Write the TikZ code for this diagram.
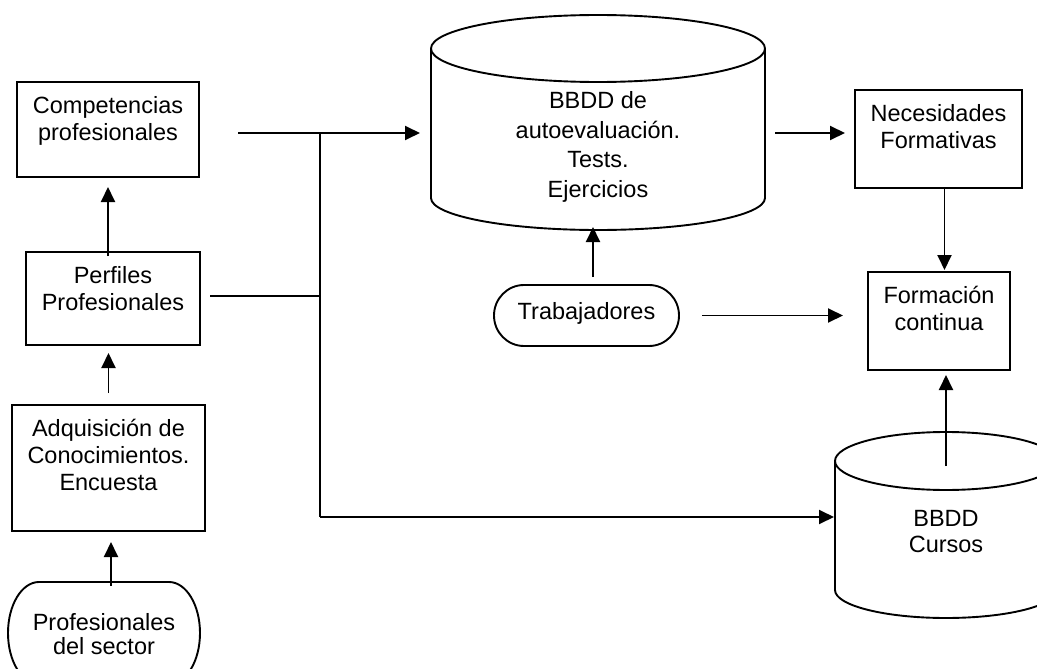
\documentclass[tikz,border=0pt]{standalone}
\usepackage{fontspec}
\setmainfont{Liberation Sans}
\usetikzlibrary{arrows.meta,positioning}
\newcommand{\cell}[4]{\parbox[c][#2][t]{#1}{\centering\rule{0pt}{#3}#4\par}}

\begin{document}
\begin{tikzpicture}[x=1pt, y=-1pt, line width=1.9pt, >={Triangle[length=15pt,width=14pt]},
  font=\fontsize{23.5}{27}\selectfont,
  b/.style={draw, inner sep=0pt, outer sep=0pt}, hid/.style={inner sep=0pt, outer sep=0pt}]
\useasboundingbox (0,0) rectangle (1037,669); \clip (0,0) rectangle (1037,669);
% boxes
\node[b] (comp) at (108,129.5) {\cell{182pt}{95pt}{31pt}{Competencias\\profesionales}};
\node[b] (perf) at (113,298.5) {\cell{174pt}{93pt}{31.5pt}{Perfiles\\Profesionales}};
\node[b] (adq) at (108.5,468) {\cell{193pt}{126pt}{31pt}{Adquisición de\\Conocimientos.\\Encuesta}};
\node[b] (nec) at (938.5,139) {\cell{167pt}{98pt}{31.5pt}{Necesidades\\Formativas}};
\node[b] (form) at (939,321) {\cell{142pt}{98pt}{31pt}{Formación\\continua}};
% data bases
\node[hid, font=\fontsize{23.5}{30}\selectfont] (bd) at (598,122.5) {\cell{334pt}{215pt}{93pt}{BBDD de\\autoevaluación.\\Tests.\\Ejercicios}};
\node[hid, font=\fontsize{23.5}{26}\selectfont] (cur) at (946,525) {\cell{222pt}{186pt}{94.5pt}{BBDD\\Cursos}};
\draw ([yshift=-33.5pt]bd.north) ellipse [x radius=167pt, y radius=33.5pt];
\draw ([yshift=-33.5pt]bd.north west) -- ([yshift=32pt]bd.south west) arc[start angle=180, end angle=360, x radius=167pt, y radius=32pt] -- ([yshift=-33.5pt]bd.north east);
\draw ([yshift=-29pt]cur.north) ellipse [x radius=111pt, y radius=29pt];
\draw ([yshift=-29pt]cur.north west) -- ([yshift=28pt]cur.south west) arc[start angle=180, end angle=360, x radius=111pt, y radius=28pt] -- ([yshift=-29pt]cur.north east);
% terminals
\node[hid] (trab) at (586.5,315.5) {\cell{185pt}{61pt}{34pt}{Trabajadores}};
\node[hid, font=\fontsize{23.5}{24}\selectfont] (prof) at (104,633) {\cell{192pt}{102pt}{48.5pt}{Profesionales\\del sector}};
\draw ([xshift=30pt]trab.north west) -- ([xshift=-30pt]trab.north east) arc[start angle=90, end angle=-90, x radius=30pt, y radius=30.5pt] -- ([xshift=30pt]trab.south west) arc[start angle=270, end angle=90, x radius=30pt, y radius=30.5pt] -- cycle;
\draw ([xshift=31pt]prof.north west) -- ([xshift=-31pt]prof.north east) arc[start angle=90, end angle=-90, x radius=31pt, y radius=51pt] -- ([xshift=31pt]prof.south west) arc[start angle=270, end angle=90, x radius=31pt, y radius=51pt] -- cycle;
% connectors
\coordinate (j1) at (320,133); \coordinate (j2) at (320,296); \coordinate (j3) at (320,517);
\draw[->, shorten <=-4pt, shorten >=10pt] (comp.south |- perf.north) -- (comp.south);
\draw[->, shorten <=12pt, shorten >=8pt] (adq.north) -- (adq.north |- perf.south);
\draw[->, shorten <=-4pt, shorten >=11pt] ([xshift=7pt]prof.north) -- ([xshift=7pt]prof.north |- adq.south);
\draw[->, shorten <=39pt, shorten >=11pt] (comp.east |- j1) -- (j1 -| bd.west);
\draw (j1) -- (j3); \draw[shorten <=10pt] (perf.east |- j2) -- (j2);
\draw[->, shorten >=1pt] (j3) -- (j3 -| cur.west);
\draw[->, shorten <=10pt, shorten >=10pt] (bd.east |- j1) -- (j1 -| nec.west);
\draw[->, shorten >=2pt] ([xshift=6pt]nec.south) -- ([xshift=6pt]nec.south |- form.north);
\draw[->, shorten <=23pt, shorten >=25pt] (trab.east) -- (trab.east -| form.west);
\draw[->, shorten <=8pt, shorten >=-3pt] ([xshift=6.5pt]trab.north) -- ([xshift=6.5pt]trab.north |- bd.south);
\draw[->, shorten >=5pt] ([yshift=-34pt]cur.north) -- (cur.north |- form.south);
\end{tikzpicture}
\end{document}
